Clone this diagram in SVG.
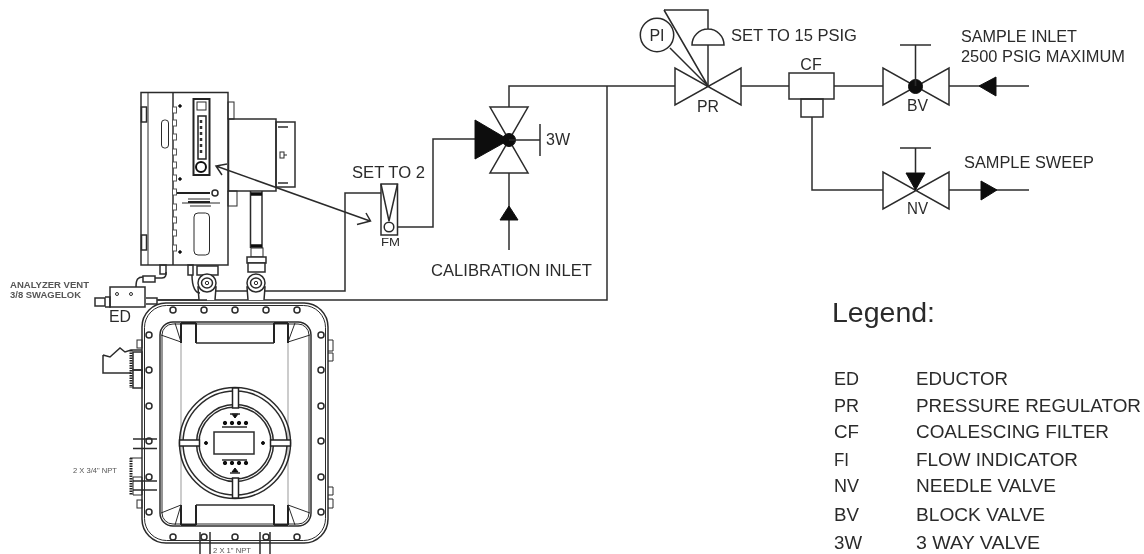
<svg xmlns="http://www.w3.org/2000/svg" width="1144" height="554" viewBox="0 0 1144 554">
<style>
text{font-family:"Liberation Sans",Arial,sans-serif;fill:#2b2b2b;font-size:16px}
.s{fill:none;stroke:#2b2b2b;stroke-width:1.5}
.w{fill:#fff;stroke:#2b2b2b;stroke-width:1.5}
.t{fill:none;stroke:#2b2b2b;stroke-width:1}
.d{fill:#111;stroke:#111;stroke-width:1}
.g{fill:none;stroke:#999;stroke-width:1}
.h{fill:none;stroke:#222;stroke-width:3}
.sm{font-size:8.2px;font-weight:bold;fill:#555}
.xs{font-size:6.8px;fill:#555}
.lg{font-size:17.5px}
</style>
<defs>
<filter id="soft" x="-2%" y="-2%" width="104%" height="104%"><feGaussianBlur stdDeviation="0.45"/></filter>
<circle id="bolt" r="3" fill="#fff" stroke="#2b2b2b" stroke-width="1.5"/>
<rect id="tab" x="-1.500" y="-3" width="4" height="6" fill="#fff" stroke="#555" stroke-width="1"/>
<g id="port"><path class="w" d="M-8 17L-9 4H9L8 17"/><circle r="9" class="w"/><ellipse rx="5.500" ry="5" class="s"/><circle r="1.700" class="t"/></g>
</defs>
<rect width="1144" height="554" fill="#fff"/>
<g filter="url(#soft)">
<g id="connectors">
<path class="s" d="M509 107V86H675M607 86V300H158"/>
<path class="s" d="M741 86H789M834 86H883M949 86H1029M812 117V190H883M949 190H1029"/>
<path class="s" d="M509 173V250M397 227H433V139H475M381 193H345V291H212"/>
<path class="s" d="M370 221L216 166M366 213L370.500 221L357 224.500M227 164L216 166L222 175"/>
<polygon class="d" points="979,86 996,77 996,96"/>
<polygon class="d" points="997,190 981,181 981,200"/>
<polygon class="d" points="509,206 500,220 518,220"/>
</g>
<g id="enclosure">
<rect class="s" x="142" y="303" width="186" height="240" rx="24"/>
<rect class="t" x="144.500" y="305.500" width="181" height="235" rx="22"/>
<rect class="s" x="160" y="322" width="151" height="204" rx="13"/>
<rect class="t" x="162" y="324" width="147" height="200" rx="11"/>
<path class="g" d="M181 322V526M288 322V526"/>
<path class="h" d="M181 323V343M196 323V343M181 323H196M274 323V343M288 323V343M274 323H288M181 525V505M196 525V505M181 525H196M274 525V505M288 525V505M274 525H288" style="stroke-width:2"/>
<path class="s" d="M196 343H274M196 505H274"/>
<path class="t" d="M161 335L181 342L175 323M310 335L288 342L295 323M161 513L181 505L175 525M310 513L288 505L295 525"/>
<use href="#bolt" x="173" y="310"/><use href="#bolt" x="204" y="310"/><use href="#bolt" x="235" y="310"/><use href="#bolt" x="266" y="310"/><use href="#bolt" x="297" y="310"/>
<use href="#bolt" x="173" y="537"/><use href="#bolt" x="204" y="537"/><use href="#bolt" x="235" y="537"/><use href="#bolt" x="266" y="537"/><use href="#bolt" x="297" y="537"/>
<use href="#bolt" x="149" y="335"/><use href="#bolt" x="149" y="370"/><use href="#bolt" x="149" y="406"/><use href="#bolt" x="149" y="441"/><use href="#bolt" x="149" y="477"/><use href="#bolt" x="149" y="512"/>
<use href="#bolt" x="321" y="335"/><use href="#bolt" x="321" y="370"/><use href="#bolt" x="321" y="406"/><use href="#bolt" x="321" y="441"/><use href="#bolt" x="321" y="477"/><use href="#bolt" x="321" y="512"/>
<circle class="s" cx="235" cy="443" r="55.500"/><circle class="s" cx="235" cy="443" r="52"/>
<circle class="s" cx="235" cy="443" r="38.500"/><circle class="s" cx="235" cy="443" r="36"/>
<g fill="#fff" stroke="#222" stroke-width="1.500">
<rect x="232.500" y="388" width="6" height="20"/><rect x="232.500" y="478" width="6" height="20"/>
<rect x="179.500" y="440" width="20" height="6"/><rect x="270.500" y="440" width="20" height="6"/>
</g>
<rect class="s" x="214" y="432" width="40" height="22"/>
<circle class="d" cx="206" cy="443" r="1.500"/><circle class="d" cx="263" cy="443" r="1.500"/>
<polygon class="d" points="232,414 238,414 235,418"/>
<polygon class="d" points="232,472 238,472 235,468"/>
<path class="s" d="M230 414H240M222 427H247M222 460H247M230 473H240"/>
<g class="d"><circle cx="225" cy="423" r="1.700"/><circle cx="232" cy="423" r="1.700"/><circle cx="239" cy="423" r="1.700"/><circle cx="246" cy="423" r="1.700"/><circle cx="225" cy="463" r="1.700"/><circle cx="232" cy="463" r="1.700"/><circle cx="239" cy="463" r="1.700"/><circle cx="246" cy="463" r="1.700"/></g>
<path class="s" d="M103 355V373H131M103 355L110 357L120 348L125 352L131 350H142"/>
<rect class="s" x="133" y="352" width="9" height="18"/>
<rect class="s" x="133" y="370" width="9" height="18"/>
<rect class="t" x="137" y="340" width="5" height="8"/>
<path class="h" d="M131 350V388" stroke-dasharray="1.500 1"/>
<path class="s" d="M133 439H157M133 448.500H157M133 481H157M133 490H157"/>
<path class="t" d="M130 458H142M133 477H142V495H133V477"/>
<path class="h" d="M131 458V495" stroke-dasharray="1.500 1"/>
<rect class="t" x="137" y="500" width="5" height="8"/>
<path class="t" d="M328 340H333V351H328M328 353H333V361H328M328 487H333V495H328M328 499H333V508H328"/>
<path class="s" d="M200 532V554M210 532V554M260 532V554M270 532V554"/>
<text class="xs" x="73" y="473" textLength="44" lengthAdjust="spacingAndGlyphs">2 X 3/4" NPT</text>
<text class="xs" x="213" y="553" textLength="38" lengthAdjust="spacingAndGlyphs">2 X 1" NPT</text>
</g>
<g id="analyzer">
<rect class="s" x="141" y="92.500" width="87" height="172.500"/>
<path class="t" d="M148 92.500V265"/><path class="s" d="M173 92.500V265"/>
<rect class="w" x="141.500" y="107" width="5" height="15"/><rect class="w" x="141.500" y="235" width="5" height="15"/>
<rect class="t" x="161.500" y="120" width="7" height="28" rx="3"/>
<g><use href="#tab" x="174" y="110"/><use href="#tab" x="174" y="123"/><use href="#tab" x="174" y="137"/><use href="#tab" x="174" y="152"/><use href="#tab" x="174" y="165"/><use href="#tab" x="174" y="178"/><use href="#tab" x="174" y="192"/><use href="#tab" x="174" y="207"/><use href="#tab" x="174" y="220"/><use href="#tab" x="174" y="233"/><use href="#tab" x="174" y="248"/></g>
<circle class="d" cx="180" cy="106" r="1.300"/><circle class="d" cx="180" cy="179" r="1.300"/><circle class="d" cx="180" cy="252" r="1.300"/>
<rect x="193.500" y="99" width="16" height="76" fill="#fff" stroke="#222" stroke-width="2"/>
<rect class="t" x="197" y="102" width="9" height="8"/>
<rect x="198" y="116" width="8" height="43" fill="#fff" stroke="#222" stroke-width="1.500"/>
<path d="M201 120V156" stroke="#333" stroke-width="2.500" fill="none" stroke-dasharray="3 3"/>
<circle cx="201" cy="167" r="5" fill="#fff" stroke="#111" stroke-width="2"/>
<path stroke="#222" stroke-width="2" fill="none" d="M177 193H210"/>
<circle class="s" cx="215" cy="193" r="3"/>
<path class="t" d="M188 199H210M182 203H220M190 206H211"/>
<path stroke="#222" stroke-width="2" fill="none" d="M188 202H210"/>
<rect class="t" x="194" y="213" width="15.500" height="42" rx="4"/>
<rect class="t" x="228" y="102" width="6" height="17"/>
<rect class="t" x="228" y="191" width="9" height="15"/>
<rect class="s" x="228.500" y="119" width="47.500" height="72"/>
<rect class="s" x="276" y="122" width="19" height="65"/>
<path class="s" d="M278 127H288M278 183H288"/>
<rect class="t" x="280" y="152" width="4" height="6"/>
<path class="t" d="M284 155H287"/>
<path class="s" d="M250.500 191V248M262 191V248"/>
<path d="M251 194H262M251 246H262" stroke="#111" stroke-width="3.500" fill="none"/>
<rect class="t" x="251" y="248" width="12" height="9"/>
<rect class="w" x="247" y="257" width="19" height="6"/>
<rect class="w" x="248" y="263" width="17" height="9"/>
<use href="#port" x="256" y="283"/>
<rect class="w" x="197" y="266" width="21" height="9"/>
<use href="#port" x="207" y="283"/>
</g>
<g id="eductor">
<rect class="s" x="110" y="287" width="35" height="20"/>
<circle class="t" cx="117" cy="294" r="1.500"/><circle class="t" cx="131" cy="294" r="1.500"/>
<rect class="s" x="95" y="298" width="10" height="8"/>
<path class="s" d="M105 297H110V307H105M146 298H157V304H146M136 287C136 279 138 277 143 277M155 278H162C166 278 166 275 166 272M192 275C192 288 196 293 200 293"/>
<rect class="s" x="143" y="276" width="12" height="6"/>
<rect class="s" x="160" y="265" width="6" height="9"/>
<rect class="s" x="188" y="265" width="5" height="10"/>
<path class="s" d="M157 300H207"/>
<text class="sm" x="10" y="288" textLength="79" lengthAdjust="spacingAndGlyphs">ANALYZER VENT</text>
<text class="sm" x="10" y="298" textLength="71" lengthAdjust="spacingAndGlyphs">3/8 SWAGELOK</text>
<text x="109" y="322" textLength="22" lengthAdjust="spacingAndGlyphs" style="font-size:16.500px">ED</text>
</g>
<g id="fm">
<rect class="s" x="381" y="184" width="16.500" height="51"/>
<path class="s" d="M381 184L389 221L397.500 184"/>
<circle class="s" cx="389" cy="227" r="4.800"/>
<text x="381" y="246" textLength="19" lengthAdjust="spacingAndGlyphs" style="font-size:11.500px">FM</text>
<text x="352" y="178" textLength="73" lengthAdjust="spacingAndGlyphs">SET TO 2</text>
</g>
<g id="v3w">
<path class="s" d="M490 107H528L490 173H528Z"/>
<polygon class="d" points="475,120 475,159 509,140"/>
<circle class="d" cx="509" cy="140" r="6.500"/>
<path class="s" d="M509 140H540M540 124V156"/>
<text x="546" y="145" textLength="24" lengthAdjust="spacingAndGlyphs">3W</text>
</g>
<g id="calibration">
<text x="431" y="276" textLength="161" lengthAdjust="spacingAndGlyphs" style="font-size:16.500px">CALIBRATION INLET</text>
</g>
<g id="pi">
<circle class="s" cx="657" cy="35" r="16.700"/>
<text x="657" y="41" text-anchor="middle">PI</text>
<path class="s" d="M664 10L708 86M670 48L708 86"/>
</g>
<g id="pr">
<path class="s" d="M675 68V105L741 68V105Z"/>
<path class="s" d="M708 86V45M692 45A16 16 0 0 1 724 45ZM708 29V10H664"/>
<text x="697" y="112" textLength="22" lengthAdjust="spacingAndGlyphs">PR</text>
<text x="731" y="41" textLength="126" lengthAdjust="spacingAndGlyphs">SET TO 15 PSIG</text>
</g>
<g id="cf">
<rect class="s" x="789" y="73" width="45" height="26"/>
<rect class="s" x="801" y="99" width="22" height="18"/>
<text x="811" y="70" text-anchor="middle">CF</text>
</g>
<g id="bv">
<path class="s" d="M883 68V105L949 68V105Z"/>
<circle class="d" cx="915.500" cy="86.500" r="7"/>
<path class="s" d="M915.500 86V45M900 45H931"/>
<text x="907" y="111" textLength="21" lengthAdjust="spacingAndGlyphs">BV</text>
</g>
<g id="nv">
<path class="s" d="M883 172V209L949 172V209Z"/>
<polygon class="d" points="906,173 925,173 915.500,190"/>
<path class="s" d="M915.500 173V148M900 148H931"/>
<text x="907" y="214" textLength="21" lengthAdjust="spacingAndGlyphs">NV</text>
</g>
<g id="labels">
<text x="961" y="42" textLength="116" lengthAdjust="spacingAndGlyphs">SAMPLE INLET</text>
<text x="961" y="62" textLength="164" lengthAdjust="spacingAndGlyphs">2500 PSIG MAXIMUM</text>
<text x="964" y="168" textLength="130" lengthAdjust="spacingAndGlyphs">SAMPLE SWEEP</text>
</g>
<g id="legend">
<text x="832" y="322" style="font-size:28px" textLength="103" lengthAdjust="spacingAndGlyphs">Legend:</text>
<text class="lg" x="834" y="385" textLength="25" lengthAdjust="spacingAndGlyphs">ED</text><text class="lg" x="916" y="385" textLength="92" lengthAdjust="spacingAndGlyphs">EDUCTOR</text>
<text class="lg" x="834" y="412" textLength="25" lengthAdjust="spacingAndGlyphs">PR</text><text class="lg" x="916" y="412" textLength="225" lengthAdjust="spacingAndGlyphs">PRESSURE REGULATOR</text>
<text class="lg" x="834" y="438" textLength="25" lengthAdjust="spacingAndGlyphs">CF</text><text class="lg" x="916" y="438" textLength="193" lengthAdjust="spacingAndGlyphs">COALESCING FILTER</text>
<text class="lg" x="834" y="466" textLength="15" lengthAdjust="spacingAndGlyphs">FI</text><text class="lg" x="916" y="466" textLength="162" lengthAdjust="spacingAndGlyphs">FLOW INDICATOR</text>
<text class="lg" x="834" y="492" textLength="25" lengthAdjust="spacingAndGlyphs">NV</text><text class="lg" x="916" y="492" textLength="140" lengthAdjust="spacingAndGlyphs">NEEDLE VALVE</text>
<text class="lg" x="834" y="521" textLength="25" lengthAdjust="spacingAndGlyphs">BV</text><text class="lg" x="916" y="521" textLength="129" lengthAdjust="spacingAndGlyphs">BLOCK VALVE</text>
<text class="lg" x="834" y="549" textLength="28" lengthAdjust="spacingAndGlyphs">3W</text><text class="lg" x="916" y="549" textLength="124" lengthAdjust="spacingAndGlyphs">3 WAY VALVE</text>
</g>
</g>
</svg>
